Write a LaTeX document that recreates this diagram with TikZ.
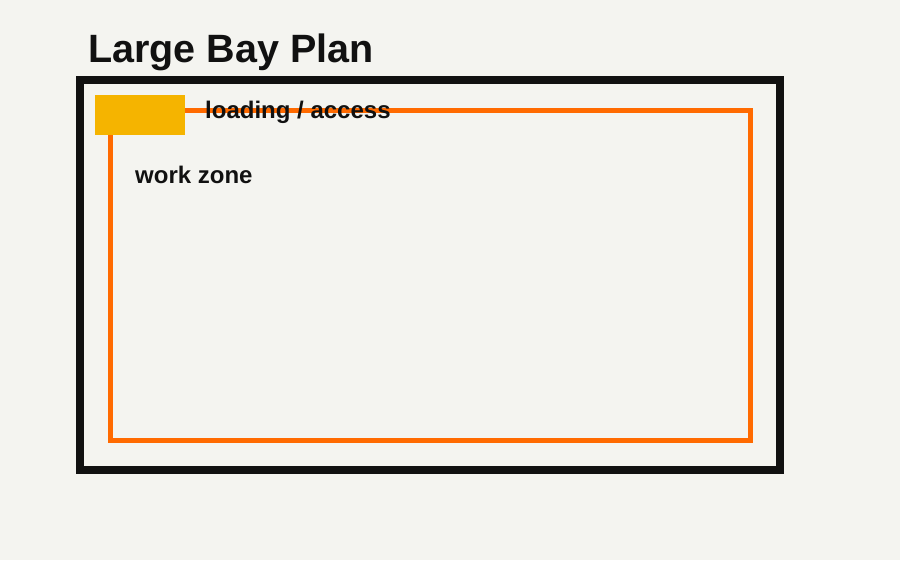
\documentclass[tikz,border=0pt]{standalone}
\usepackage{fontspec}
\setmainfont{Liberation Sans}
\definecolor{paper}{HTML}{F4F4F0}
\definecolor{wallc}{HTML}{111111}
\definecolor{zonec}{HTML}{FF6A00}
\definecolor{dockc}{HTML}{F5B400}
\tikzset{
  wall/.style={draw=wallc, line width=7.5pt},
  zoneline/.style={draw=zonec, line width=5pt},
  dockbox/.style={fill=dockc},
  lbl/.style={anchor=base west, inner sep=0pt, font=\bfseries\fontsize{24}{28}\selectfont, text=wallc}
}
\begin{document}
\begin{tikzpicture}[x=1pt,y=-1pt]
        % Canvas
        \fill[paper] (0,0) rectangle (900,560);
        \useasboundingbox (0,0) rectangle (900,560);
        % Title
        \node[anchor=base west, inner sep=0pt, font=\bfseries\fontsize{39.5}{44}\selectfont, text=wallc] (title) at (88,62.5) {Large Bay Plan};
        % Bay walls
        \draw[wall] (80,80) rectangle (780,470);
        % Work zone
        \draw[zoneline] (110,110) rectangle (750,440);
        % Loading area
        \fill[dockbox] (95,95) rectangle (185,135);
        % Labels
        \node[lbl] (access) at (205,118.5) {loading / access};
        \node[lbl] (zone) at (135,183) {work zone};
\end{tikzpicture}
\end{document}
